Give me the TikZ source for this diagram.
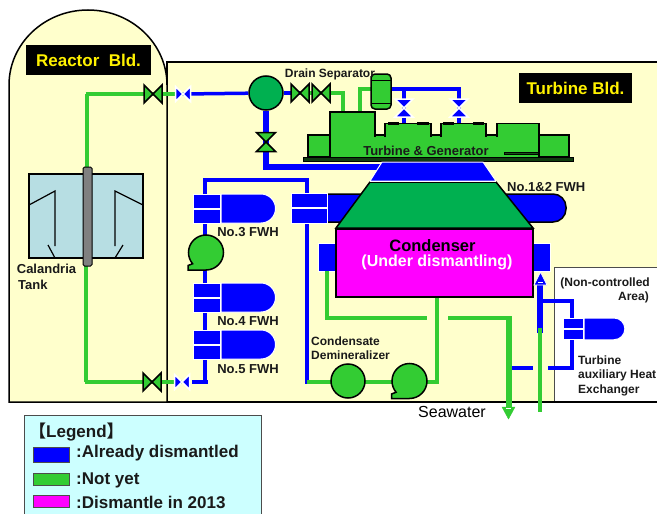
\documentclass[tikz,border=0pt]{standalone}
\usepackage{amsmath}
\usepackage{amssymb}
\usepackage{fontspec}
\setmainfont{Liberation Sans}
\newfontfamily\cjk{Noto Sans CJK JP}
\definecolor{bldyellow}{HTML}{FFFFCC}
\definecolor{tankblue}{HTML}{B7DEE3}
\definecolor{legendcyan}{HTML}{CCFFFF}
\definecolor{pipegreen}{HTML}{33CC33}
\definecolor{darkgreen}{HTML}{00B050}
\definecolor{pipeblue}{HTML}{0000FF}
\definecolor{condpink}{HTML}{FF00FF}
\definecolor{textblack}{HTML}{1A1A1A}
\tikzset{
    bluepipe/.style={draw=pipeblue, line width=3.5pt},
    greenpipe/.style={draw=pipegreen, line width=3.2pt},
    label12/.style={inner sep=0pt, text=textblack, font=\fontsize{12}{14}\selectfont\bfseries},
    label13/.style={inner sep=0pt, text=textblack, font=\fontsize{13}{15}\selectfont\bfseries},
    label17/.style={inner sep=0pt, text=textblack, font=\fontsize{17}{19}\selectfont\bfseries},
    bldlabel/.style={fill=black, text=yellow, inner sep=0pt, minimum height=30pt, font=\fontsize{17}{19}\selectfont\bfseries},
    greenvalve/.style={draw=black, fill=pipegreen, line width=1.5pt},
    bluevalve/.style={draw=white, fill=pipeblue, line width=1.5pt},
    greenbox/.style={draw=black, fill=pipegreen, line width=1.5pt},
    whitebox/.style={draw=white, fill=pipeblue, line width=1pt},
}
\newcommand{\hvalve}[3]{\draw[#3, shift={(#1)}] (-#2,-#2) -- (#2,#2) -- (#2,-#2) -- (-#2,#2) -- cycle;}
\newcommand{\vvalve}[3]{\draw[#3, shift={(#1)}] (-#2,-#2) -- (#2,#2) -- (-#2,#2) -- (#2,-#2) -- cycle;}
\newcommand{\fwh}[2]{\draw[whitebox, shift={(#1)}, #2] (0,0) rectangle (27,14.5);
            \draw[whitebox, shift={(#1)}, #2] (0,15) rectangle (27,29);
            \draw[whitebox, shift={(#1)}, #2] (28,0) -- (68,0) arc[start angle=-90, end angle=90, radius=14.5] -- (28,29) -- cycle;}
\newcommand{\pump}[1]{\draw[greenvalve, shift={(#1)}] (0,17.5) arc[start angle=90, end angle=-220, radius=17.5] -- (-18,13) -- (-18,17.5) -- cycle;}
\begin{document}
\begin{tikzpicture}[x=1pt, y=-1pt]
            \clip (0,0) rectangle (657,514);
            \fill[white] (0,0) rectangle (657,514);
            \draw[draw=black, fill=bldyellow, line width=1.5pt] (167,62) -- (660,62) -- (660,402) -- (167,402) -- cycle;
            \draw[draw=black, fill=bldyellow, line width=1.5pt] (9,402) -- (9,85) arc[start angle=180, end angle=360, x radius=79, y radius=75] -- (167,402) -- cycle;
            \draw[draw=black!70, fill=white, line width=0.8pt] (554,401) rectangle (662,267);
            \draw[draw=black, line width=1.5pt] (550,402) -- (660,402);
            \node[bldlabel, minimum width=125pt] (reactorlabel) at (88.5,60) {Reactor\ \ Bld.};
            \node[bldlabel, minimum width=113pt] (turbinelabel) at (575.5,88) {Turbine Bld.};
            \coordinate (vgreentop) at (153,94);
            \coordinate (vbluetop) at (183,94);
            \coordinate (vgreenbot) at (152,382);
            \coordinate (vbluebot) at (182,382);
            \coordinate (vdraina) at (300,93);
            \coordinate (vdrainb) at (321,93);
            \coordinate (vsteam) at (266,142);
            \coordinate (vturba) at (404,108);
            \coordinate (vturbb) at (459,108);
            \coordinate (tanktop) at (87,94);
            \coordinate (tankbot) at (86,382);
            \node[circle, draw=black, fill=darkgreen, line width=1.5pt, minimum size=34pt, inner sep=0pt] (separator) at (266,93) {};
            \draw[greenpipe] (tanktop) -- (87,170);
            \draw[greenpipe] (85.5,94) -- (vbluetop);
            \draw[greenpipe] (86,262) -- (tankbot);
            \draw[greenpipe] (84.5,382) -- (vbluebot);
            \draw[bluepipe] (vbluetop) -- (separator);
            \draw[bluepipe] (separator) -- (vdraina);
            \draw[greenpipe] (vdraina) -- (343,93) -- (343,113);
            \draw[greenpipe] (360,113) -- (360,89) -- (372,89);
            \draw[bluepipe] (390,89) -- (461,89);
            \draw[bluepipe] (vturba |- 0,88) -- (vturba) -- (404,124);
            \draw[bluepipe] (vturbb |- 0,88) -- (vturbb) -- (459,124);
            \draw[draw=pipeblue, line width=5.5pt] (separator) -- (vsteam) -- (266,167) -- (380,167);
            \draw[bluepipe] (205,194) -- (205,180) -- (307,180) -- (307,194);
            \draw[bluepipe] (205,223) -- (205,383);
            \draw[bluepipe] (192,382) -- (208,382);
            \draw[bluepipe] (307,223) -- (307,384);
            \hvalve{vgreentop}{9}{greenvalve}
            \hvalve{vgreenbot}{9}{greenvalve}
            \hvalve{vbluetop}{7.5}{bluevalve}
            \hvalve{vbluebot}{7.5}{bluevalve}
            \hvalve{vdraina}{9}{greenvalve}
            \hvalve{vdrainb}{9}{greenvalve}
            \vvalve{vsteam}{9.5}{greenvalve}
            \vvalve{vturba}{9}{bluevalve}
            \vvalve{vturbb}{9}{bluevalve}
            \draw[draw=black, fill=pipegreen, line width=1.5pt, rounded corners=4pt] (371,80) -- (371,74) -- (391,74) -- (391,109) -- (371,109) -- cycle;
            \draw[draw=black, line width=1pt] (371,80) -- (391,80);
            \draw[draw=black, line width=1pt] (371,103) -- (391,103);
            \draw[draw=black, fill=tankblue, line width=1.5pt] (29,174) rectangle (143,258);
            \draw[draw=black, line width=1.2pt] (29,205) -- (55,191) -- (55,246);
            \draw[draw=black, line width=1.2pt] (48,245) -- (55,258);
            \draw[draw=black, line width=1.2pt] (143,205) -- (115,191) -- (115,246);
            \draw[draw=black, line width=1.2pt] (123,245) -- (115,258);
            \draw[draw=black, fill=gray, line width=1pt, rounded corners=1.5pt] (83,167) rectangle (92,266);
            \node[label13] (calandria) at (46.5,269) {Calandria};
            \node[label13, anchor=west] (tank) at (18,285) {Tank};
            \draw[greenbox] (308,135) rectangle (569,157);
            \draw[greenbox] (330,112) rectangle (375,157);
            \draw[greenbox] (385,123.5) rectangle (431,157);
            \draw[greenbox] (441,123.5) rectangle (486,157);
            \draw[greenbox] (497,123.5) rectangle (539,157);
            \fill[pipegreen] (331,137) rectangle (538,156.5);
            \draw[draw=black, fill=black] (388,122) rectangle (398,124);
            \draw[draw=black, fill=black] (417,122) rectangle (428,124);
            \draw[draw=black, fill=black] (443,122) rectangle (453,124);
            \draw[draw=black, fill=black] (473,122) rectangle (483,124);
            \draw[draw=black, fill=black!60!pipegreen, line width=0.5pt] (504,152.5) rectangle (538,154);
            \draw[draw=black, fill=black!70!pipegreen, line width=1pt] (303,157) rectangle (573,161);
            \node[label13] (turbinegen) at (426,151) {Turbine \& Generator};
            \node[label12] (drainsep) at (330,74) {Drain Separator};
            \draw[draw=black, fill=pipeblue, line width=1.5pt, rounded corners=13pt] (310,194) -- (566,194) -- (566,222) -- (310,222) -- cycle;
            \draw[whitebox] (291,193) rectangle (327,207.5);
            \draw[whitebox] (291,208.5) rectangle (327,223);
            \node[label13, anchor=west] (fwhonetwo) at (507,187) {No.1\&2 FWH};
            \draw[draw=white, fill=pipeblue, line width=1pt] (382,162) -- (483,162) -- (496,181) -- (370,181) -- cycle;
            \draw[draw=black, fill=darkgreen, line width=1.5pt] (336,228) -- (370,182) -- (496,182) -- (533,228) -- cycle;
            \draw[draw=white, line width=1pt] (370,181.5) -- (496,181.5);
            \draw[whitebox] (318,243) rectangle (337,271);
            \draw[whitebox] (532,243) rectangle (550,271);
            \coordinate (condleft) at (327,271);
            \coordinate (conddrain) at (437,297);
            \draw[greenpipe] (condleft) -- (327,318) -- (427,318);
            \draw[greenpipe] (448,318) -- (509,318);
            \draw[draw=pipegreen, line width=6pt] (509,316) -- (509,408);
            \draw[draw=pipegreen, fill=pipegreen] (502,407) -- (515,407) -- (508.5,419) -- cycle;
            \draw[draw=white, line width=1pt] (506,408.5) -- (511,408.5);
            \draw[greenpipe] (conddrain) -- (437,382) -- (307,382);
            \draw[draw=black, fill=condpink, line width=1.5pt] (336,229) rectangle (533,297);
            \node[inner sep=0pt, text=black, font=\fontsize{16.5}{18}\selectfont\bfseries] (condenser) at (432.5,245.5) {Condenser};
            \node[inner sep=0pt, text=white, font=\fontsize{16}{18}\selectfont\bfseries] (dismantling) at (437,262.5) {(Under dismantling)};
            \node[circle, draw=black, fill=pipegreen, line width=1.5pt, minimum size=34pt, inner sep=0pt] (demin) at (348,381) {};
            \pump{409.5,381}
            \fwh{193,194}{}
            \fwh{193,283}{}
            \fwh{193,330}{}
            \pump{206,252.5}
            \node[label13] (fwhthree) at (248,232) {No.3 FWH};
            \node[label13] (fwhfour) at (248,321) {No.4 FWH};
            \node[label13] (fwhfive) at (248,369) {No.5 FWH};
            \node[label12, anchor=west] (condensate) at (311,341) {Condensate};
            \node[label12, anchor=west] (deminlabel) at (311,355) {Demineralizer};
            \draw[draw=pipeblue, line width=6pt] (540,333) -- (540,284);
            \draw[draw=white, fill=pipeblue, line width=0.8pt] (534,285) -- (547,285) -- (540.5,272) -- cycle;
            \draw[draw=white, line width=1pt] (538,282.5) -- (543,282.5);
            \draw[greenpipe] (540,328) -- (540,412);
            \draw[bluepipe] (540,301) -- (573.5,301);
            \draw[bluepipe] (572,300) -- (572,318);
            \draw[bluepipe] (572,340) -- (572,369.5);
            \draw[bluepipe] (548,368) -- (573.5,368);
            \draw[bluepipe] (512,368) -- (533,368);
            \fwh{563,318}{scale=0.75}
            \node[label12, anchor=east] (noncontrolled) at (650,283) {(Non-controlled};
            \node[label12, anchor=east] (area) at (649,297) {Area)};
            \node[label12, anchor=west] (turbaux) at (578,360) {Turbine};
            \node[label12, anchor=west] (auxheat) at (578,375) {auxiliary Heat};
            \node[label12, anchor=west] (exchanger) at (578,390) {Exchanger};
            \node[inner sep=0pt, text=black, font=\fontsize{16}{18}\selectfont] (seawater) at (452,412) {Seawater};
            \draw[draw=black!70, fill=legendcyan, line width=1pt] (24,415) rectangle (261,530);
            \node[label17, anchor=west] (legendhead) at (29,432) {{\cjk\bfseries 【}Legend{\cjk\bfseries 】}};
            \draw[draw=black!70, fill=pipeblue, line width=1pt] (33.5,447) rectangle (69,462);
            \draw[draw=black!70, fill=pipegreen, line width=1pt] (33.5,473) rectangle (69,485);
            \draw[draw=black!70, fill=condpink, line width=1pt] (33.5,495) rectangle (69,507);
            \node[label17, anchor=west] (legendblue) at (76,453) {:Already dismantled};
            \node[label17, anchor=west] (legendgreen) at (76,480) {:Not yet};
            \node[label17, anchor=west] (legendpink) at (76,502) {:Dismantle in 2013};
        \end{tikzpicture}
\end{document}
